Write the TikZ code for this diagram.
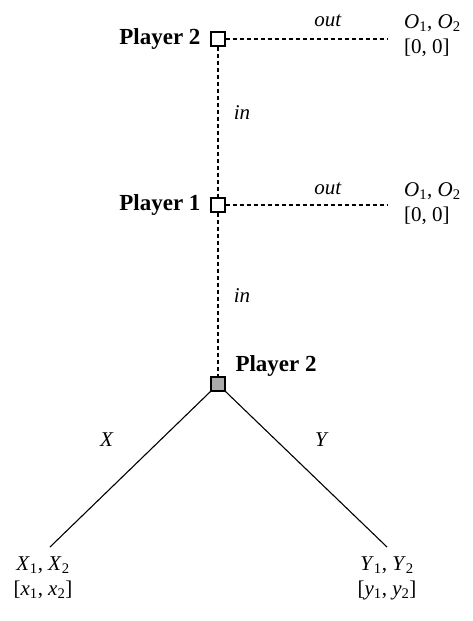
\documentclass[tikz,border=0pt]{standalone}
\usepackage{fontspec}
\setmainfont{Liberation Serif}
\newcommand{\isub}[2]{\textit{#1}\textsubscript{#2}}
\begin{document}
\begin{tikzpicture}[x=1pt,y=-1pt,
  every node/.style={font=\fontsize{21}{25}\selectfont},
  decision/.style={draw, fill=white, minimum size=14pt, inner sep=0pt, line width=1.1pt},
  chance/.style={decision, fill=gray!65},
  dsh/.style={line width=1.1pt, dash pattern=on 4pt off 3pt},
  branch/.style={line width=1.1pt},
  plabel/.style={font=\fontsize{23}{25}\selectfont\bfseries},
  payoff/.style={align=left, anchor=west, inner sep=0pt},
  payoffc/.style={align=center, inner sep=0pt}]
\useasboundingbox (0,0) rectangle (472,621);
% decision nodes
\node[decision] (p2) at (218,39) {};
\node[decision] (p1) at (218,205) {};
\node[chance] (p3) at (218,384) {};
% player labels
\node[plabel, anchor=east] (l2) at (204,39) {Player 2};
\node[plabel, anchor=east] (l1) at (204,205) {Player 1};
\node[plabel, anchor=west] (l3) at (232,366) {Player 2};
% end points
\coordinate (e2) at (387,39);
\coordinate (e1) at (387,205);
\coordinate (ex) at (50,547);
\coordinate (ey) at (387,547);
% connectors
\draw[dsh] (p2.east) -- (e2);
\draw[dsh] (p1.east) -- (e1);
\draw[dsh] (p2) -- (p1);
\draw[dsh] (p1) -- (p3);
\draw[branch] (p3.south west) -- (ex);
\draw[branch] (p3.south east) -- (ey);
% action labels
\node (out2) at (328,21) {\textit{out}};
\node (out1) at (328,189) {\textit{out}};
\node (in2) at (242,113) {\textit{in}};
\node (in1) at (242,296) {\textit{in}};
\node (lx) at (107,440) {\textit{X}};
\node (ly) at (322,440) {\textit{Y}};
% payoffs
\node[payoff] (o2) at (404,36) {\isub{O}{1}, \isub{O}{2}\\{[0, 0]}};
\node[payoff] (o1) at (404,204) {\isub{O}{1}, \isub{O}{2}\\{[0, 0]}};
\node[payoffc] (px) at (43,578) {\isub{X}{1}, \isub{X}{2}\\{[\isub{x}{1}, \isub{x}{2}]}};
\node[payoffc] (py) at (387,578) {\isub{Y}{1}, \isub{Y}{2}\\{[\isub{y}{1}, \isub{y}{2}]}};
\end{tikzpicture}
\end{document}
